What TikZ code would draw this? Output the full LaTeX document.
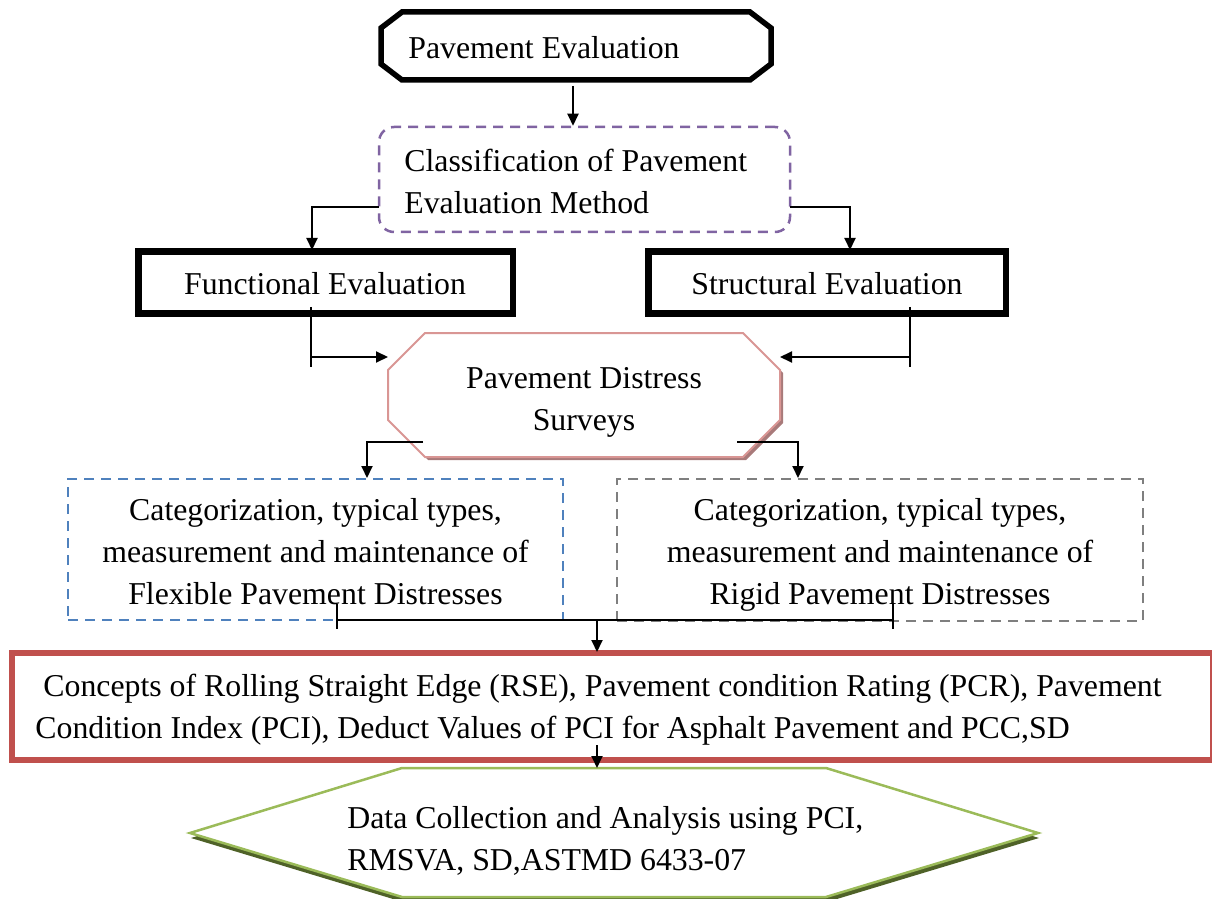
\documentclass[tikz,border=0pt]{standalone}
\usepackage{fontspec}
\setmainfont{Liberation Serif}
\usetikzlibrary{arrows.meta}
\definecolor{purp}{HTML}{8064A2}
\definecolor{blu}{HTML}{4F81BD}
\definecolor{gry}{HTML}{7F7F7F}
\definecolor{redb}{HTML}{C0504D}
\definecolor{pinkb}{HTML}{D99694}
\definecolor{pinksh}{RGB}{168,122,122}
\definecolor{grn}{HTML}{9BBB59}
\definecolor{grnsh}{HTML}{4F6228}
\begin{document}
\begin{tikzpicture}[x=0.5pt,y=-0.5pt,
  txt/.style={font=\fontsize{15.9}{21}\selectfont, inner sep=0pt},
  conn/.style={line width=1pt, -{Triangle[width=5.5pt,length=6pt]}},
  plainline/.style={line width=1pt},
  thickbox/.style={draw=black, line width=3.25pt, inner sep=0pt},
  dashbox/.style={line width=1.25pt, dash pattern=on 5pt off 3.5pt, inner sep=0pt},
]
\useasboundingbox (0,0) rectangle (1212,899);

% ---------- top octagon
\draw[line width=2.75pt, fill=white] (381,28) -- (402,12) -- (750,12) -- (771,28) -- (771,64) -- (750,80) -- (402,80) -- (381,64) -- cycle;
\coordinate (peb) at (573,86);
\node[txt, anchor=base west] (pet) at (408,59) {Pavement Evaluation};

% ---------- classification box
\node[dashbox, draw=purp, rounded corners=7.5pt, minimum width=205.5pt, minimum height=52.5pt] (cl) at (584.5,179.5) {};
\node[txt, anchor=north west, align=left] (clt) at (404,149) {Classification of Pavement\\Evaluation Method};

% ---------- functional / structural
\node[thickbox, minimum width=187.25pt, minimum height=31pt] (fe) at (325.75,282.5) {};
\node[txt, anchor=base] (fet) at (325,294) {Functional Evaluation};
\node[thickbox, minimum width=178.75pt, minimum height=31pt] (se) at (827.25,282.5) {};
\node[txt, anchor=base] (set) at (827,294) {Structural Evaluation};

% ---------- distress octagon
\fill[pinksh] ([shift={(3,3)}]388,370) -- ([shift={(3,3)}]425,333) -- ([shift={(3,3)}]743,333) -- ([shift={(3,3)}]780,370) -- ([shift={(3,3)}]780,420) -- ([shift={(3,3)}]743,457) -- ([shift={(3,3)}]425,457) -- ([shift={(3,3)}]388,420) -- cycle;
\draw[line width=1pt, draw=pinkb, fill=white] (388,370) -- (425,333) -- (743,333) -- (780,370) -- (780,420) -- (743,457) -- (425,457) -- (388,420) -- cycle;
\node[txt, anchor=north, align=center] (dst) at (584,367) {Pavement Distress\\Surveys};
\coordinate (dsl) at (388,357);
\coordinate (dsr) at (780,357);

% ---------- flexible / rigid boxes
\node[dashbox, draw=blu, minimum width=247.5pt, minimum height=70.5pt] (fl) at (315.5,549.5) {};
\node[txt, anchor=north, align=center] (flt) at (315.5,498.5) {Categorization, typical types,\\measurement and maintenance of\\Flexible Pavement Distresses};
\node[dashbox, draw=gry, minimum width=263pt, minimum height=71pt] (rg) at (880,550) {};
\node[txt, anchor=north, align=center] (rgt) at (880,498.5) {Categorization, typical types,\\measurement and maintenance of\\Rigid Pavement Distresses};

% ---------- concepts box
\node[draw=redb, line width=3.25pt, inner sep=0pt, minimum width=600.75pt, minimum height=53.5pt] (cc) at (612.75,706.5) {};
\node[txt, anchor=north west, align=left] (cct) at (35,674) {\hspace*{4pt}Concepts of Rolling Straight Edge (RSE), Pavement condition Rating (PCR), Pavement\\Condition Index (PCI), Deduct Values of PCI for Asphalt Pavement and PCC,SD};

% ---------- data hexagon
\fill[grnsh] ([shift={(1,5)}]190,833) -- ([shift={(1,5)}]402,768) -- ([shift={(1,5)}]826,768) -- ([shift={(1,5)}]1038,833) -- ([shift={(1,5)}]826,897) -- ([shift={(1,5)}]402,897) -- cycle;
\draw[line width=1.25pt, draw=grn, fill=white] (190,833) -- (402,768) -- (826,768) -- (1038,833) -- (826,897) -- (402,897) -- cycle;
\node[txt, anchor=north west, align=left] (dct) at (347,806) {Data Collection and Analysis using PCI,\\RMSVA, SD,ASTMD 6433-07};

% ---------- connectors
\coordinate (a1) at (379,207);
\coordinate (a2) at (312,207);
\coordinate (a3) at (312,250);
\coordinate (b1) at (790,207);
\coordinate (b2) at (850,207);
\coordinate (b3) at (850,250);
\draw[conn] (peb) -- (cl.north -| peb);
\draw[conn] (a1) -- (a2) -- (a3);
\draw[conn] (b1) -- (b2) -- (b3);

\coordinate (c1) at (311,307);
\coordinate (c2) at (311,367);
\coordinate (c3) at (311,357);
\draw[plainline] (c1) -- (c2);
\draw[conn] (c3) -- (dsl);
\coordinate (d1) at (910,307);
\coordinate (d2) at (910,367);
\coordinate (d3) at (910,357);
\draw[plainline] (d1) -- (d2);
\draw[conn] (d3) -- (dsr);

\coordinate (e1) at (423,442);
\coordinate (e2) at (367,442);
\coordinate (e3) at (367,478);
\draw[conn] (e1) -- (e2) -- (e3);
\coordinate (f1) at (737,442);
\coordinate (f2) at (798,442);
\coordinate (f3) at (798,478);
\draw[conn] (f1) -- (f2) -- (f3);

\coordinate (g1) at (337,620);
\coordinate (g2) at (893,620);
\coordinate (gm) at (597,620);
\draw[plainline] (g1) -- (g2);
\draw[plainline] (337,604) -- (337,629);
\draw[plainline] (893,604) -- (893,629);
\draw[conn] (gm) -- (597,652);

\coordinate (h1) at (597,745);
\coordinate (h2) at (597,768);
\draw[conn] (h1) -- (h2);
\end{tikzpicture}
\end{document}
